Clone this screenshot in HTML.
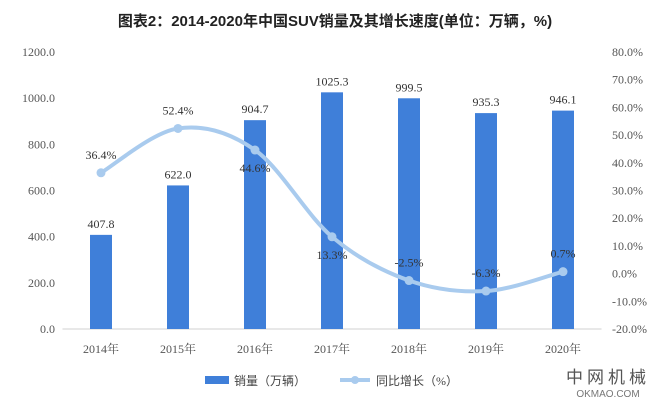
<!DOCTYPE html>
<html><head><meta charset="utf-8"><style>
body{margin:0;background:#fff;}
svg{display:block;font-family:"Liberation Serif","Noto Serif CJK SC",serif;}
</style></head><body>
<svg id="c" width="671" height="402">
<text x="335" y="26" text-anchor="middle" font-family="Liberation Sans,Noto Sans CJK SC,sans-serif" font-weight="bold" font-size="15" fill="#222">图表2：2014-2020年中国SUV销量及其增长速度(单位：万辆，%)</text>
<g id="plot"></g>
<g>
<rect x="205" y="376" width="24" height="8" fill="#3f7fd9"/>
<text x="234" y="385" font-size="12" fill="#444" font-family="Liberation Serif,Noto Sans CJK SC,serif">销量（万辆）</text>
<line x1="340" y1="380" x2="370" y2="380" stroke="#a9cbee" stroke-width="4"/>
<circle cx="355" cy="380" r="4" fill="#a9cbee"/>
<text x="376" y="385" font-size="12" fill="#444" font-family="Liberation Serif,Noto Sans CJK SC,serif">同比增长（%）</text>
</g>
<text x="608" y="383" text-anchor="middle" font-family="Liberation Sans,Noto Sans CJK SC,sans-serif" font-size="17" fill="#555" letter-spacing="4">中网机械</text>
<text x="608" y="397" text-anchor="middle" font-family="Liberation Sans,sans-serif" font-size="10" fill="#777">OKMAO.COM</text>
</svg>
<script>
const categories=["2014年","2015年","2016年","2017年","2018年","2019年","2020年"];
const sales=[407.8,622.0,904.7,1025.3,999.5,935.3,946.1];
const growth=[36.4,52.4,44.6,13.3,-2.5,-6.3,0.7];
const leftTicks=[0,200,400,600,800,1000,1200];
const rightTicks=[-20,-10,0,10,20,30,40,50,60,70,80];
const labelBelow=[false,false,true,true,false,false,false];
const NS="http://www.w3.org/2000/svg";
const g=document.getElementById("plot");
const X0=62.5,X1=601.5,Y0=329,Y1=52;
const bw=(X1-X0)/categories.length;
const xc=i=>X0+bw*(i+0.5);
const yL=v=>Y0-(v/1200)*(Y0-Y1);
const yR=v=>Y0-((v+20)/100)*(Y0-Y1);
function mk(t,a){const e=document.createElementNS(NS,t);for(const k in a)e.setAttribute(k,a[k]);g.appendChild(e);return e;}
let ax=mk("line",{x1:X0,y1:Y0,x2:X1,y2:Y0,stroke:"#d0d0d0"});


leftTicks.forEach(v=>{const t=mk("text",{x:55,y:yL(v)+4,"text-anchor":"end","font-size":"12",fill:"#555"});t.textContent=v.toFixed(1);

});
rightTicks.forEach(v=>{const t=mk("text",{x:612,y:yR(v)+4,"font-size":"12",fill:"#555"});t.textContent=v.toFixed(1)+"%";

});
categories.forEach((c,i)=>{const t=mk("text",{x:xc(i),y:353,"text-anchor":"middle","font-size":"12",fill:"#555","font-family":"Liberation Serif,Noto Serif CJK SC,serif"});t.textContent=c;

});
sales.forEach((v,i)=>{const r=mk("rect",{x:xc(i)-11,y:yL(v),width:22,height:Y0-yL(v),fill:"#3f7fd9"});


const t=mk("text",{x:xc(i),y:yL(v)-7,"text-anchor":"middle","font-size":"12",fill:"#333"});t.textContent=v.toFixed(1);

});
const pts=growth.map((v,i)=>[xc(i),yR(v)]);
let d="M"+pts[0][0]+","+pts[0][1];
for(let i=0;i<pts.length-1;i++){const p0=pts[Math.max(0,i-1)],p1=pts[i],p2=pts[i+1],p3=pts[Math.min(pts.length-1,i+2)];
d+=` C${p1[0]+(p2[0]-p0[0])/6},${p1[1]+(p2[1]-p0[1])/6} ${p2[0]-(p3[0]-p1[0])/6},${p2[1]-(p3[1]-p1[1])/6} ${p2[0]},${p2[1]}`;}
const ln=mk("path",{d:d,fill:"none",stroke:"#a9cbee","stroke-width":"4"});


growth.forEach((v,i)=>{const c=mk("circle",{cx:pts[i][0],cy:pts[i][1],r:4.5,fill:"#a9cbee"});


const t=mk("text",{x:pts[i][0],y:labelBelow[i]?pts[i][1]+22:pts[i][1]-14,"text-anchor":"middle","font-size":"12",fill:"#333"});t.textContent=v.toFixed(1)+"%";

});
</script>
</body></html>
